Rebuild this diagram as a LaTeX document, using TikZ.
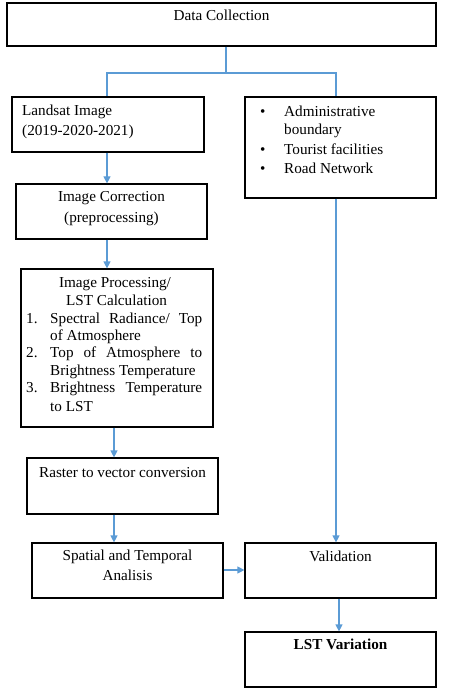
\documentclass[tikz,border=0pt]{standalone}
\usepackage{fontspec}
\setmainfont{Liberation Serif}
\usetikzlibrary{arrows.meta}
\definecolor{conncol}{RGB}{91,155,213}
\begin{document}
\begin{tikzpicture}[x=1pt,y=-1pt,
  box/.style={draw=black, line width=1.2pt, rectangle, inner sep=0pt},
  txt/.style={anchor=base, inner sep=0pt, font=\fontsize{15.2}{17.5}\selectfont},
  ltxt/.style={anchor=base west, inner sep=0pt, font=\fontsize{15.2}{17.5}\selectfont},
  conn/.style={draw=conncol, line width=1.2pt},
  arr/.style={conn, -{Triangle[width=7pt,length=7pt]}}]
\useasboundingbox (0,0) rectangle (448,692);
% boxes
\node[box, minimum width=429pt, minimum height=43pt] (dc) at (221.5,24.5) {};
\node[box, minimum width=192pt, minimum height=55pt] (ls) at (108,124.5) {};
\node[box, minimum width=191pt, minimum height=101pt] (rb) at (340.5,147.5) {};
\node[box, minimum width=191pt, minimum height=55pt] (ic) at (111.5,211.5) {};
\node[box, minimum width=192pt, minimum height=158pt] (ip) at (117,348) {};
\node[box, minimum width=191pt, minimum height=56pt] (rv) at (122.5,486) {};
\node[box, minimum width=191pt, minimum height=55pt] (st) at (127.5,570.5) {};
\node[box, minimum width=191pt, minimum height=55pt] (val) at (340.5,570.5) {};
\node[box, minimum width=191pt, minimum height=55pt] (lst) at (340.5,659.5) {};
% texts
\node[txt] (t-dc) at (221.5,21) {Data Collection};
\node[ltxt] (t-ls1) at (22,116) {Landsat Image};
\node[ltxt] (t-ls2) at (22,136) {(2019-2020-2021)};
\node[ltxt] (b1) at (260,117) {•};
\node[ltxt] (t-rb1) at (284,117) {Administrative};
\node[ltxt] (t-rb2) at (284,135) {boundary};
\node[ltxt] (b2) at (260,155) {•};
\node[ltxt] (t-rb3) at (284,155) {Tourist facilities};
\node[ltxt] (b3) at (260,174) {•};
\node[ltxt] (t-rb4) at (284,174) {Road Network};
\node[txt] (t-ic1) at (111.5,202) {Image Correction};
\node[txt] (t-ic2) at (111.5,223) {(preprocessing)};
\node[txt] (t-ip1) at (115,287) {Image Processing/};
\node[txt] (t-ip2) at (116.5,305) {LST Calculation};
\node[ltxt] (n1) at (26,323) {1.};
\node[ltxt] (l1) at (50,323) {\hbox to 152pt{Spectral\hfill Radiance/\hfill Top}};
\node[ltxt] (l2) at (50,340) {of Atmosphere};
\node[ltxt] (n2) at (26,357) {2.};
\node[ltxt] (l3) at (50,357) {\hbox to 152pt{Top\hfill of\hfill Atmosphere\hfill to}};
\node[ltxt] (l4) at (50,375) {Brightness Temperature};
\node[ltxt] (n3) at (26,392) {3.};
\node[ltxt] (l5) at (50,392) {\hbox to 152pt{Brightness\hfill Temperature}};
\node[ltxt] (l6) at (50,411) {to LST};
\node[txt] (t-rv) at (122.5,477) {Raster to vector conversion};
\node[txt] (t-st1) at (127.5,560) {Spatial and Temporal};
\node[txt] (t-st2) at (127.5,580) {Analisis};
\node[txt] (t-val) at (340.5,561) {Validation};
\node[txt, font=\fontsize{15.2}{17.5}\selectfont\bfseries] (t-lst) at (340.5,649) {LST Variation};
% connectors
\coordinate (j) at (226,73);
\coordinate (jl) at (107,73);
\coordinate (jr) at (336,73);
\draw[conn] (dc.south -| j) -- (j) -- (jl) -- (ls.north -| jl);
\draw[conn] (j) -- (jr) -- (rb.north -| jr);
\coordinate (c1) at (107,0);
\coordinate (c2) at (114,0);
\coordinate (c3) at (336,0);
\coordinate (c4) at (0,570);
\coordinate (c5) at (339,0);
\draw[arr] (ls.south -| c1) -- (ic.north -| c1);
\draw[arr] (ic.south -| c1) -- (ip.north -| c1);
\draw[arr] (ip.south -| c2) -- (rv.north -| c2);
\draw[arr] (rv.south -| c2) -- (st.north -| c2);
\draw[arr] (rb.south -| c3) -- (val.north -| c3);
\draw[arr] (st.east |- c4) -- (val.west |- c4);
\draw[arr] (val.south -| c5) -- (lst.north -| c5);
\end{tikzpicture}
\end{document}
